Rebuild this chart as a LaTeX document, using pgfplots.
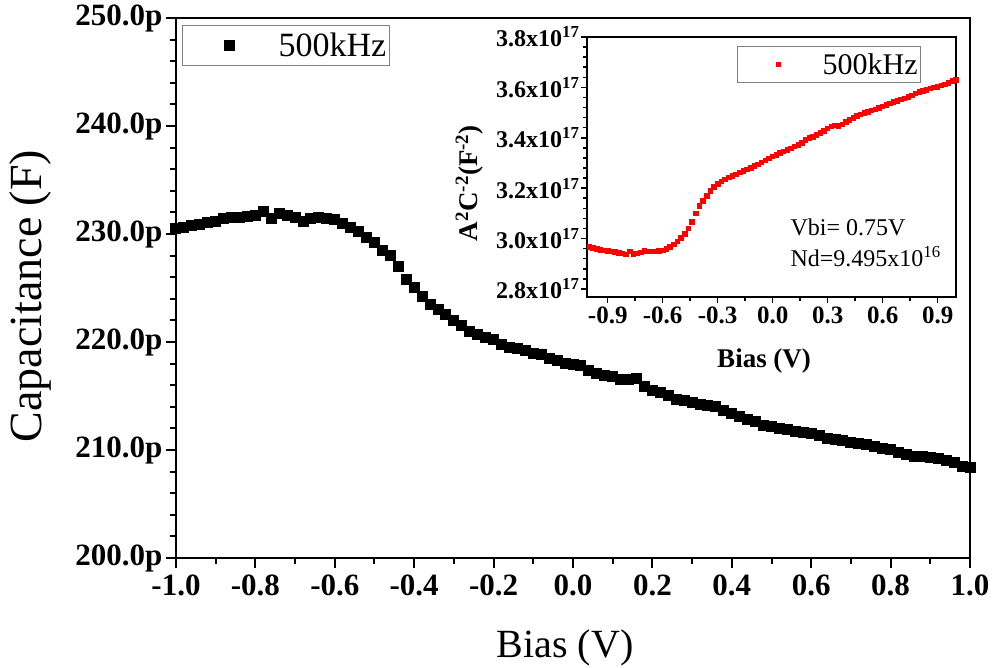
\documentclass[border=0pt]{standalone}
\usepackage{fontspec}
\setmainfont{Liberation Serif}
\usepackage{pgfplots}
\pgfplotsset{compat=1.18}

\newcommand\fs[1]{\fontsize{#1}{#1}\selectfont}
\newcommand\tl[1]{#1x10\textsuperscript{17}}

% C-V at 500 kHz, capacitance in pF
\pgfplotstableread{
v c
-1.00 230.5
-0.98 230.6
-0.96 230.8
-0.94 230.9
-0.92 231.1
-0.90 231.2
-0.88 231.4
-0.86 231.5
-0.84 231.5
-0.82 231.6
-0.80 231.7
-0.78 232.1
-0.76 231.4
-0.74 231.9
-0.72 231.7
-0.70 231.5
-0.68 231.2
-0.66 231.4
-0.64 231.5
-0.62 231.4
-0.60 231.3
-0.58 231.0
-0.56 230.6
-0.54 230.2
-0.52 229.7
-0.50 229.2
-0.48 228.5
-0.46 228.0
-0.44 227.0
-0.42 225.8
-0.40 225.0
-0.38 224.2
-0.36 223.5
-0.34 223.0
-0.32 222.5
-0.30 222.0
-0.28 221.5
-0.26 221.0
-0.24 220.7
-0.22 220.4
-0.20 220.2
-0.18 219.8
-0.16 219.5
-0.14 219.4
-0.12 219.2
-0.10 218.9
-0.08 218.8
-0.06 218.5
-0.04 218.3
-0.02 218.0
0.00 217.9
0.02 217.8
0.04 217.4
0.06 217.1
0.08 216.9
0.10 216.8
0.12 216.5
0.14 216.5
0.16 216.6
0.18 215.9
0.20 215.5
0.22 215.3
0.24 215.0
0.26 214.7
0.28 214.6
0.30 214.4
0.32 214.2
0.34 214.1
0.36 214.0
0.38 213.7
0.40 213.4
0.42 213.1
0.44 212.8
0.46 212.6
0.48 212.3
0.50 212.2
0.52 212.0
0.54 211.9
0.56 211.7
0.58 211.6
0.60 211.5
0.62 211.3
0.64 211.1
0.66 211.0
0.68 210.9
0.70 210.7
0.72 210.6
0.74 210.5
0.76 210.3
0.78 210.1
0.80 210.0
0.82 209.8
0.84 209.6
0.86 209.4
0.88 209.4
0.90 209.3
0.92 209.2
0.94 209.0
0.96 208.8
0.98 208.5
1.00 208.4
}\cvdata

% Mott-Schottky, A^2/C^2 in units of 1e17
\pgfplotstableread{
v m
-1.00 2.966
-0.98 2.962
-0.96 2.958
-0.94 2.955
-0.92 2.953
-0.90 2.951
-0.88 2.948
-0.86 2.946
-0.84 2.943
-0.82 2.940
-0.80 2.936
-0.78 2.948
-0.76 2.938
-0.74 2.940
-0.72 2.944
-0.70 2.950
-0.68 2.948
-0.66 2.948
-0.64 2.949
-0.62 2.950
-0.60 2.953
-0.58 2.958
-0.56 2.966
-0.54 2.976
-0.52 2.988
-0.50 3.002
-0.48 3.018
-0.46 3.040
-0.44 3.066
-0.42 3.100
-0.40 3.128
-0.38 3.150
-0.36 3.170
-0.34 3.188
-0.32 3.205
-0.30 3.216
-0.28 3.226
-0.26 3.235
-0.24 3.242
-0.22 3.248
-0.20 3.254
-0.18 3.262
-0.16 3.268
-0.14 3.274
-0.12 3.280
-0.10 3.287
-0.08 3.294
-0.06 3.302
-0.04 3.310
-0.02 3.318
0.00 3.325
0.02 3.332
0.04 3.340
0.06 3.346
0.08 3.352
0.10 3.358
0.12 3.366
0.14 3.372
0.16 3.380
0.18 3.390
0.20 3.398
0.22 3.404
0.24 3.412
0.26 3.420
0.28 3.428
0.30 3.436
0.32 3.444
0.34 3.448
0.36 3.446
0.38 3.452
0.40 3.462
0.42 3.470
0.44 3.478
0.46 3.486
0.48 3.492
0.50 3.498
0.52 3.503
0.54 3.508
0.56 3.512
0.58 3.518
0.60 3.524
0.62 3.530
0.64 3.536
0.66 3.542
0.68 3.547
0.70 3.552
0.72 3.556
0.74 3.562
0.76 3.568
0.78 3.575
0.80 3.581
0.82 3.586
0.84 3.590
0.86 3.595
0.88 3.599
0.90 3.602
0.92 3.607
0.94 3.612
0.96 3.617
0.98 3.625
1.00 3.630
}\msdata

\begin{document}
\begin{tikzpicture}
% main axis
\begin{axis}[
    at={(0pt,0pt)}, anchor=south west,
    scale only axis, width=794pt, height=540pt,
    xmin=-1, xmax=1, ymin=200, ymax=250,
    axis line style={line width=2.5pt},
    tick align=outside, xtick pos=bottom, ytick pos=left,
    major tick length=10pt, minor tick length=6pt,
    every tick/.style={black, line width=2pt},
    xtick={-1,-0.8,-0.6,-0.4,-0.2,0,0.2,0.4,0.6,0.8,1},
    xticklabels={-1.0,-0.8,-0.6,-0.4,-0.2,0.0,0.2,0.4,0.6,0.8,1.0},
    ytick={200,210,220,230,240,250},
    yticklabels={200.0p,210.0p,220.0p,230.0p,240.0p,250.0p},
    minor x tick num=1, minor y tick num=4,
    ticklabel style={font=\bfseries\fs{31}},
    xticklabel style={yshift=-3pt},
    xlabel={Bias (V)}, ylabel={Capacitance (F)},
    xlabel style={font=\fs{40}, at={(axis description cs:0.49,-0.185)}, anchor=base},
    ylabel style={font=\fs{46}, at={(axis description cs:-0.169,0.485)}, anchor=base},
    legend style={at={(axis description cs:0.0076,0.987)}, anchor=north west,
        draw=gray, line width=1pt, inner xsep=0pt, inner ysep=0pt,
        font=\fs{34}, cells={anchor=west},
        nodes={inner xsep=3pt, inner ysep=0pt}},
    legend image code/.code={\path[draw=none, fill=none] (0pt,-20pt) rectangle (93pt,20pt);
        \draw[#1] plot coordinates {(47pt,0pt)};},
]
\addplot[only marks, mark=square*, mark size=5pt, black,
    mark options={line width=0pt}] table[x=v, y=c] {\cvdata};
\addlegendentry{500kHz}
\end{axis}

% inset
\begin{axis}[
    at={(411pt,261pt)}, anchor=south west,
    scale only axis, width=369pt, height=260pt,
    xmin=-1.013, xmax=1.0, ymin=2.768, ymax=3.8,
    axis line style={line width=1.6pt},
    tick align=outside, xtick pos=bottom, ytick pos=left,
    major tick length=6pt, minor tick length=4pt,
    every tick/.style={black, line width=1.5pt},
    xtick={-0.9,-0.6,-0.3,0,0.3,0.6,0.9},
    xticklabels={-0.9,-0.6,-0.3,0.0,0.3,0.6,0.9},
    ytick={2.8,3.0,3.2,3.4,3.6,3.8},
    yticklabels={\tl{2.8},\tl{3.0},\tl{3.2},\tl{3.4},\tl{3.6},\tl{3.8}},
    minor x tick num=1, minor y tick num=4,
    xticklabel style={font=\bfseries\fs{25}},
    yticklabel style={font=\bfseries\fs{24}, xshift=2pt},
    xlabel={Bias (V)},
    ylabel={A\textsuperscript{2}C\textsuperscript{-2}(F\textsuperscript{-2})},
    xlabel style={font=\bfseries\fs{27}, at={(axis description cs:0.48,-0.273)}, anchor=base},
    ylabel style={font=\bfseries\fs{27}, at={(axis description cs:-0.298,0.438)}, anchor=base},
    legend style={at={(axis description cs:0.407,0.965)}, anchor=north west,
        draw=gray, line width=1pt, inner xsep=0pt, inner ysep=0pt,
        font=\fs{30}, cells={anchor=west},
        nodes={inner xsep=3pt, inner ysep=0pt}},
    legend image code/.code={\path[draw=none, fill=none] (0pt,-18pt) rectangle (82pt,18pt);
        \draw[#1] plot coordinates {(41pt,0pt)};},
]
\addplot[only marks, mark=square*, mark size=2.3pt, red,
    mark options={line width=0pt}] table[x=v, y=m] {\msdata};
\addlegendentry{500kHz}
\node[anchor=base west, font=\fs{24}] at (axis cs:0.078,3.011) {Vbi= 0.75V};
\node[anchor=base west, font=\fs{24}] at (axis cs:0.078,2.888) {Nd=9.495x10\textsuperscript{16}};
\end{axis}

\pgfresetboundingbox
\path (-176pt,-110pt) rectangle (817pt,558pt);
\end{tikzpicture}
\end{document}
